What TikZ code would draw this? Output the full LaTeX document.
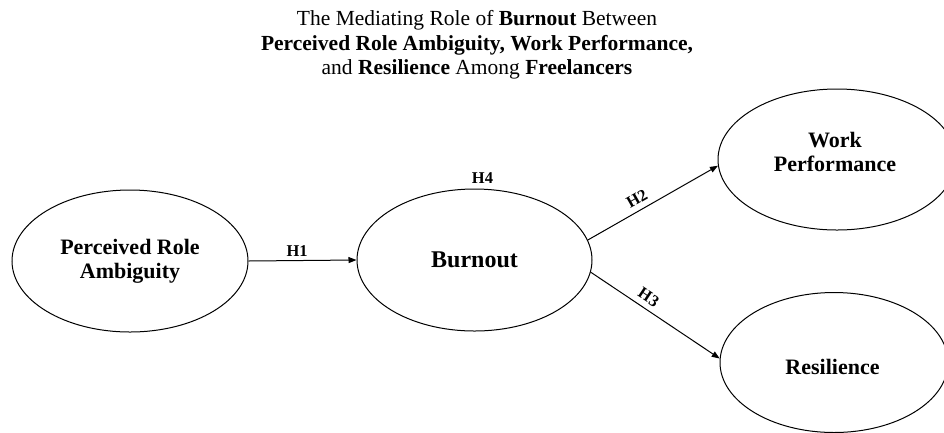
\documentclass[tikz,border=0pt]{standalone}
\usepackage{fontspec}
\setmainfont{Liberation Serif}
\usetikzlibrary{shapes.geometric,arrows.meta}
\begin{document}
\begin{tikzpicture}[x=1pt,y=-1pt,
  construct/.style={ellipse,draw,line width=1pt,inner sep=0pt,align=center,
    font=\fontsize{22}{24}\selectfont\bfseries},
  nodetext/.style={inner sep=0pt,align=center,font=\fontsize{22}{24}\selectfont\bfseries},
  link/.style={draw,line width=1pt,-{Triangle[length=8pt,width=6pt]}},
  hyp/.style={font=\fontsize{16.5}{18}\selectfont\bfseries}]
\useasboundingbox (0,0) rectangle (944,432);
\node[align=center,inner sep=0pt,anchor=north,font=\fontsize{21.5}{24.5}\selectfont] (title) at (477,10.3)
  {The Mediating Role of \textbf{Burnout} Between\\
   \textbf{Perceived Role Ambiguity, Work Performance,}\\
   and \textbf{Resilience} Among \textbf{Freelancers}};
\node[construct,minimum width=236pt,minimum height=142pt] (pra) at (130,261) {Perceived Role\\Ambiguity};
\node[construct,minimum width=235pt,minimum height=142pt,font=\fontsize{24}{26}\selectfont\bfseries] (bo) at (474.5,260) {Burnout};
\node[construct,minimum width=238pt,minimum height=141pt] (wp) at (837,159.5) {};
\node[nodetext] (wptext) at (835,151.5) {Work\\Performance};
\node[construct,minimum width=228pt,minimum height=140pt] (res) at (834,362.5) {};
\node[nodetext] (restext) at (832.5,366.5) {Resilience};
\draw[link] (pra.east) -- node[hyp,above,pos=0.45] {H1} (bo.west);
\node[hyp,anchor=base] (h4) at (482.5,183) {H4};
\draw[link] (bo.10.5) -- node[hyp,above=2pt,sloped,pos=0.42] {H2} (wp.183);
\draw[link] (bo.-6.5) -- node[hyp,above=2pt,sloped,pos=0.40] {H3} (res.178);
\end{tikzpicture}
\end{document}
